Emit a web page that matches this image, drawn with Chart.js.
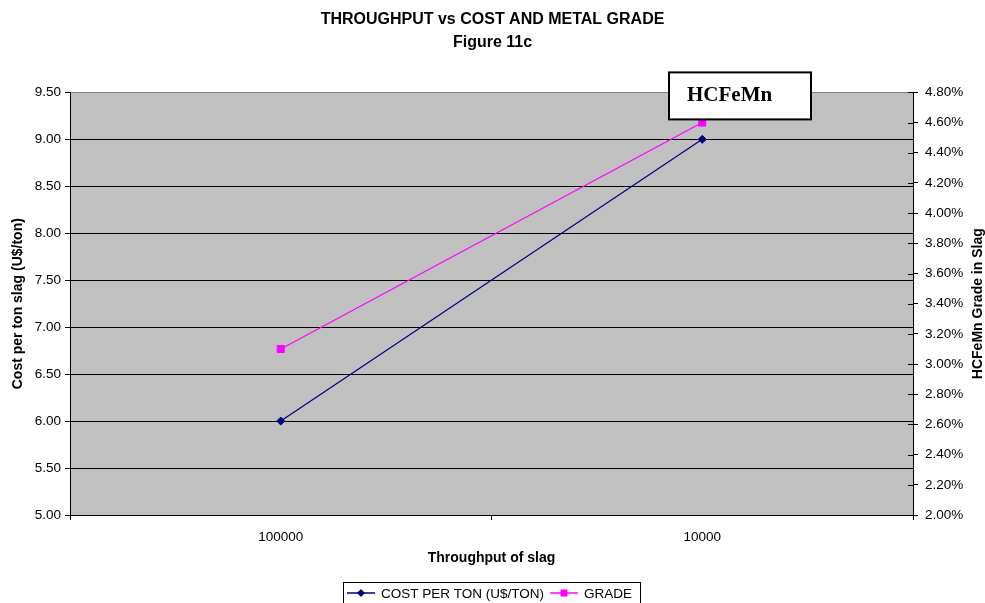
<!DOCTYPE html>
<html>
<head>
<meta charset="utf-8">
<title>Throughput vs Cost and Metal Grade</title>
<script src="https://cdn.jsdelivr.net/npm/chart.js@4"></script>
<style>
  html, body { margin: 0; padding: 0; background: #fff; }
  #wrap { width: 985px; height: 603px; }
</style>
</head>
<body>
<div id="wrap"><canvas id="myChart" width="985" height="603"></canvas></div>
<script>
// throughput categories and the two series
const throughput = ['100000', '10000'];
const costPerTon = [6.00, 9.00];
const gradePct = [3.10, 4.60];

const FONT = "'Liberation Sans', Arial, sans-serif";

// gray plot area, right axis title, inner ticks, label box and boxed legend
const extras = {
    id: 'extras',
    beforeDraw(chart) {
        const a = chart.chartArea;
        const ctx = chart.ctx;
        ctx.save();
        ctx.fillStyle = '#C0C0C0';
        ctx.fillRect(a.left, a.top, a.right - a.left, a.bottom - a.top);
        ctx.restore();
    },
    afterDatasetsDraw(chart) {
        const a = chart.chartArea;
        const ctx = chart.ctx;
        const y1 = chart.scales.y1;
        ctx.save();

        // right axis ticks cross the axis line
        ctx.strokeStyle = '#000';
        ctx.lineWidth = 1;
        y1.ticks.forEach(t => {
            const py = Math.round(y1.getPixelForValue(t.value)) + 0.5;
            ctx.beginPath();
            ctx.moveTo(a.right - 5, py);
            ctx.lineTo(a.right, py);
            ctx.stroke();
        });

        // right axis title, reading bottom to top
        ctx.fillStyle = '#000';
        ctx.font = 'bold 14px ' + FONT;
        ctx.textAlign = 'center';
        ctx.textBaseline = 'middle';
        ctx.translate(978, (a.top + a.bottom) / 2);
        ctx.rotate(-Math.PI / 2);
        ctx.fillText('HCFeMn Grade in Slag', 0, 0);
        ctx.setTransform(1, 0, 0, 1, 0, 0);

        // label box
        const bx = a.left + 599, by = a.top - 20, bw = 142, bh = 47;
        ctx.fillStyle = '#fff';
        ctx.fillRect(bx, by, bw, bh);
        ctx.strokeStyle = '#000';
        ctx.lineWidth = 2;
        ctx.strokeRect(bx, by, bw, bh);
        ctx.fillStyle = '#000';
        ctx.font = "bold 21px 'Liberation Serif', 'Times New Roman', serif";
        ctx.textAlign = 'left';
        ctx.textBaseline = 'alphabetic';
        ctx.fillText('HCFeMn', bx + 18, by + 29);

        // legend
        ctx.font = '13.5px ' + FONT;
        const sets = chart.data.datasets;
        const lineW = 28, gap = 6, itemGap = 6;
        const widths = sets.map(d => lineW + gap + ctx.measureText(d.label).width);
        const total = widths.reduce((s, w) => s + w, 0) + itemGap * (sets.length - 1) + 12;
        const cx = (a.left + a.right) / 2;
        const lx = Math.round(cx - total / 2);
        const ly = 593;
        ctx.strokeStyle = '#000';
        ctx.lineWidth = 1;
        ctx.strokeRect(lx + 0.5, 582.5, total, 30);
        let x = lx + 4;
        sets.forEach((d, i) => {
            ctx.strokeStyle = d.borderColor;
            ctx.lineWidth = 1.5;
            ctx.beginPath();
            ctx.moveTo(x, ly);
            ctx.lineTo(x + lineW, ly);
            ctx.stroke();
            const mx = x + lineW / 2;
            ctx.fillStyle = d.borderColor;
            ctx.beginPath();
            if (d.pointStyle === 'rectRot') {
                ctx.moveTo(mx, ly - 4);
                ctx.lineTo(mx + 4, ly);
                ctx.lineTo(mx, ly + 4);
                ctx.lineTo(mx - 4, ly);
                ctx.closePath();
            } else {
                ctx.rect(mx - 3.5, ly - 3.5, 7, 7);
            }
            ctx.fill();
            ctx.fillStyle = '#000';
            ctx.textBaseline = 'middle';
            ctx.fillText(d.label, x + lineW + gap, ly + 1);
            x += widths[i] + itemGap;
        });
        ctx.restore();
    }
};

const ctx = document.getElementById('myChart').getContext('2d');
new Chart(ctx, {
    type: 'line',
    data: {
        labels: throughput,
        datasets: [{
            label: 'COST PER TON (U$/TON)',
            data: costPerTon,
            yAxisID: 'y',
            borderColor: '#000080',
            backgroundColor: '#000080',
            borderWidth: 1.2,
            pointStyle: 'rectRot',
            pointRadius: 4,
            pointBorderWidth: 1,
            tension: 0
        }, {
            label: 'GRADE',
            data: gradePct,
            yAxisID: 'y1',
            borderColor: '#FF00FF',
            backgroundColor: '#FF00FF',
            borderWidth: 1.2,
            pointStyle: 'rect',
            pointRadius: 5,
            pointBorderWidth: 1,
            tension: 0
        }]
    },
    options: {
        responsive: false,
        animation: false,
        layout: { padding: { top: 0, left: 0, right: 0, bottom: 32 } },
        plugins: {
            legend: { display: false },
            tooltip: { enabled: false },
            title: {
                display: true,
                text: ['THROUGHPUT vs COST AND METAL GRADE', 'Figure 11c'],
                color: '#000',
                font: { family: FONT, size: 16, weight: 'bold', lineHeight: 1.45 },
                padding: { top: 8, bottom: 38 }
            }
        },
        scales: {
            x: {
                type: 'category',
                offset: true,
                grid: {
                    offset: true,
                    drawOnChartArea: false,
                    drawTicks: true,
                    tickLength: 5,
                    color: '#000'
                },
                border: { color: '#000', width: 1 },
                ticks: { color: '#000', font: { family: FONT, size: 13.5 }, padding: 9, maxRotation: 0 },
                title: {
                    display: true,
                    text: 'Throughput of slag',
                    color: '#000',
                    font: { family: FONT, size: 14, weight: 'bold' },
                    padding: { top: 4, bottom: 4 }
                },
                afterFit(scale) { scale.height = 56; }
            },
            y: {
                position: 'left',
                min: 5,
                max: 9.5,
                ticks: {
                    stepSize: 0.5,
                    color: '#000',
                    font: { family: FONT, size: 13.5 },
                    padding: 4,
                    callback: v => v.toFixed(2)
                },
                grid: {
                    color: c => (c.tick && c.tick.value === 9.5) ? '#808080' : '#000',
                    tickColor: '#000',
                    tickLength: 5,
                    lineWidth: 1
                },
                border: { color: '#000', width: 1 },
                title: {
                    display: true,
                    text: 'Cost per ton slag (U$/ton)',
                    color: '#000',
                    font: { family: FONT, size: 14, weight: 'bold' },
                    padding: { top: 10, bottom: 0 }
                },
                afterFit(scale) { scale.width = 70; }
            },
            y1: {
                position: 'right',
                min: 2.0,
                max: 4.8,
                ticks: {
                    stepSize: 0.2,
                    color: '#000',
                    font: { family: FONT, size: 13.5 },
                    padding: 7,
                    callback: v => v.toFixed(2) + '%'
                },
                grid: {
                    drawOnChartArea: false,
                    tickLength: 5,
                    color: '#000'
                },
                border: { color: '#000', width: 1 },
                afterFit(scale) { scale.width = 72; }
            }
        }
    },
    plugins: [extras]
});
</script>
</body>
</html>
